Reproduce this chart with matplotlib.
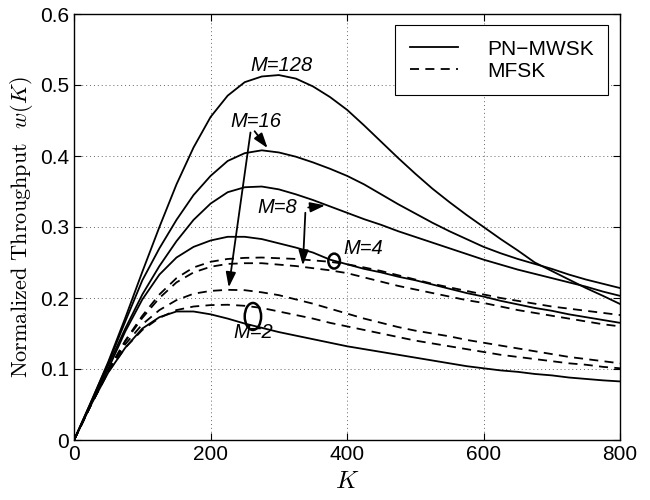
import matplotlib
matplotlib.use("Agg")
import matplotlib.pyplot as plt
from matplotlib.patches import Ellipse

plt.rcParams['font.family'] = ['Liberation Sans', 'DejaVu Sans']
plt.rcParams['mathtext.fontset'] = 'cm'

K = list(range(0, 825, 25))

# PN-MWSK (solid)
pn_m128 = [0, 0.054, 0.11, 0.172, 0.237, 0.30, 0.36, 0.412, 0.455, 0.485, 0.504, 0.512, 0.514,
           0.509, 0.498, 0.483, 0.465, 0.443, 0.42, 0.397, 0.375, 0.354, 0.335, 0.317, 0.30,
           0.283, 0.267, 0.25, 0.238, 0.226, 0.214, 0.203, 0.1915]
pn_m16 = [0, 0.054, 0.108, 0.167, 0.225, 0.27, 0.31, 0.345, 0.372, 0.393, 0.404, 0.408, 0.405,
          0.399, 0.391, 0.382, 0.372, 0.36, 0.346, 0.332, 0.319, 0.306, 0.294, 0.283, 0.272,
          0.263, 0.255, 0.248, 0.241, 0.233, 0.226, 0.22, 0.214]
pn_m8 = [0, 0.052, 0.105, 0.157, 0.205, 0.245, 0.28, 0.31, 0.333, 0.349, 0.356, 0.357, 0.353,
         0.346, 0.338, 0.329, 0.32, 0.311, 0.303, 0.294, 0.286, 0.278, 0.27, 0.262, 0.254,
         0.247, 0.24, 0.234, 0.228, 0.222, 0.216, 0.209, 0.203]
pn_m4 = [0, 0.051, 0.10, 0.153, 0.198, 0.233, 0.257, 0.272, 0.281, 0.2862, 0.2862, 0.283, 0.277,
         0.271, 0.264, 0.254, 0.2475, 0.241, 0.236, 0.23, 0.225, 0.219, 0.213, 0.207, 0.202,
         0.196, 0.191, 0.186, 0.182, 0.177, 0.173, 0.169, 0.165]
pn_m2 = [0, 0.05, 0.095, 0.13, 0.157, 0.173, 0.181, 0.181, 0.177, 0.171, 0.164, 0.158, 0.152,
         0.147, 0.142, 0.137, 0.132, 0.128, 0.124, 0.12, 0.116, 0.112, 0.108, 0.104, 0.101,
         0.098, 0.096, 0.093, 0.091, 0.088, 0.086, 0.084, 0.0825]

# MFSK (dashed)
mf_a = [0, 0.05, 0.098, 0.14, 0.175, 0.205, 0.228, 0.243, 0.251, 0.255, 0.2565, 0.257, 0.256,
        0.255, 0.253, 0.251, 0.2475, 0.243, 0.238, 0.232, 0.226, 0.22, 0.215, 0.21, 0.205,
        0.2, 0.196, 0.192, 0.188, 0.185, 0.182, 0.179, 0.176]
mf_b = [0, 0.05, 0.098, 0.139, 0.172, 0.20, 0.222, 0.236, 0.244, 0.248, 0.249, 0.249, 0.247,
        0.245, 0.242, 0.239, 0.235, 0.229, 0.223, 0.217, 0.212, 0.207, 0.202, 0.197, 0.193,
        0.188, 0.183, 0.179, 0.175, 0.171, 0.167, 0.163, 0.160]
mf_c = [0, 0.05, 0.097, 0.135, 0.163, 0.183, 0.197, 0.206, 0.21, 0.2115, 0.211, 0.208, 0.204,
        0.198, 0.192, 0.185, 0.178, 0.171, 0.165, 0.159, 0.154, 0.15, 0.146, 0.141, 0.137,
        0.133, 0.129, 0.125, 0.121, 0.117, 0.114, 0.111, 0.108]
mf_d = [0, 0.05, 0.096, 0.13, 0.155, 0.172, 0.183, 0.188, 0.19, 0.1905, 0.189, 0.186, 0.181,
        0.176, 0.171, 0.165, 0.16, 0.155, 0.15, 0.145, 0.14, 0.136, 0.132, 0.128, 0.124,
        0.12, 0.117, 0.114, 0.111, 0.108, 0.106, 0.103, 0.101]

solid_curves = [pn_m128, pn_m16, pn_m8, pn_m4, pn_m2]
dashed_curves = [mf_a, mf_b, mf_c, mf_d]

fig = plt.figure(figsize=(6.5, 5), dpi=100)
ax = fig.add_axes([0.114, 0.12, 0.84, 0.852])

for i, y in enumerate(solid_curves):
    ax.plot(K, y, 'k-', lw=1.3, label='PN\u2212MWSK' if i == 0 else None)
for i, y in enumerate(dashed_curves):
    ax.plot(K, y, 'k--', lw=1.3, dashes=(5, 3.5), label='MFSK' if i == 0 else None)

ax.set_xlim(0, 800)
ax.set_ylim(0, 0.6)
ax.set_xticks([0, 200, 400, 600, 800])
ax.set_yticks([0, 0.1, 0.2, 0.3, 0.4, 0.5, 0.6])
ax.set_yticklabels(['0', '0.1', '0.2', '0.3', '0.4', '0.5', '0.6'])
ax.tick_params(direction='in', labelsize=15, top=True, right=True, length=5)
ax.grid(True, linestyle=(0, (1, 3)), color='k', lw=0.7, alpha=0.6)
for s in ax.spines.values():
    s.set_linewidth(1.0)

ax.set_xlabel(r'$K$', fontsize=18, labelpad=4)
ax.set_ylabel(r'Normalized Throughput  $w(K)$', fontsize=16, family='cmr10', labelpad=4)

# labels and arrows
tkw = dict(fontsize=14.5, style='italic', ha='center', va='center')
ax.text(304, 0.527, 'M=128', **tkw)
ax.text(266, 0.448, 'M=16', **tkw)
ax.text(297, 0.327, 'M=8', **tkw)
ax.text(424, 0.27, 'M=4', **tkw)
ax.text(262, 0.152, 'M=2', **tkw)

akw = dict(arrowstyle='-|>,head_length=0.9,head_width=0.3', color='k', lw=1.3)
ax.annotate('', xy=(286, 0.408), xytext=(262, 0.438), arrowprops=akw)
ax.annotate('', xy=(226, 0.211), xytext=(259, 0.437), arrowprops=akw)
ax.annotate('', xy=(372, 0.331), xytext=(339, 0.327), arrowprops=akw)
ax.annotate('', xy=(335, 0.242), xytext=(339, 0.324), arrowprops=akw)

ax.add_patch(Ellipse((381, 0.252), 17, 0.021, fill=False, lw=1.8, ec='k'))
ax.add_patch(Ellipse((262, 0.174), 24, 0.038, fill=False, lw=1.8, ec='k'))

leg = ax.legend(loc='upper right', bbox_to_anchor=(0.978, 0.974), borderaxespad=0,
                fontsize=15, fancybox=False, framealpha=1, edgecolor='k',
                handlelength=2.3, handletextpad=1.4, labelspacing=0.15, borderpad=0.7)
leg.get_frame().set_linewidth(0.8)

fig.savefig('out.png', dpi=100)
